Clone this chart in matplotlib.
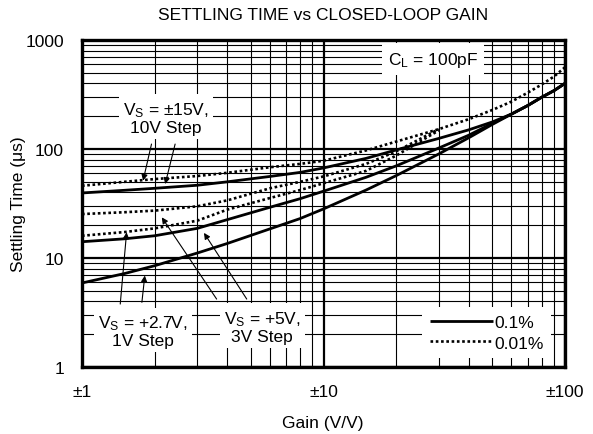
import numpy as np
import matplotlib
matplotlib.use("Agg")
import matplotlib.pyplot as plt
from matplotlib.lines import Line2D
from matplotlib.ticker import FixedLocator, LogLocator, NullFormatter

plt.rcParams["font.family"] = ["Liberation Sans", "DejaVu Sans"]
plt.rcParams["mathtext.fontset"] = "custom"
plt.rcParams["mathtext.rm"] = "Liberation Sans"
plt.rcParams["mathtext.it"] = "Liberation Sans"

nan = np.nan

# gain (V/V) and settling times (us)
gain = [1, 1.5, 2, 3, 4, 6, 8, 10, 15, 20, 30, 40, 50, 60, 70, 80, 90, 100]

t15_01 = [39.5, 41.8, 43.6, 46.5, 50, 56, 61, 67, 82, 98, 125, 150, 177, 209, 250, 298, 343, 400]
t15_001 = [46, 50, 53, 56.5, 60.5, 68, 73, 78, 97, 117, 152, 188, 228, 272, 328, 390, 462, 562]
t5_01 = [14.1, 15, 16, 18.7, 22.5, 29.2, 35, 41, 55, 70, 102, 134, 172, 209, 250, 298, 343, 400]
# the +5V and +2.7V dotted curves run into the ±15V dotted curve near gain 30
t5_001 = [25.3, 26.3, 27.2, 29.8, 33.8, 43.6, 50, 56, 73, 95, 152, nan, nan, nan, nan, nan, nan, nan]
t27_01 = [5.9, 7.2, 8.5, 11.1, 13.6, 18.5, 23, 28.2, 42, 57, 90, 127, 168, 209, 250, 298, 343, 400]
t27_001 = [16, 17.3, 18.7, 22, 27.8, 35.5, 42, 48.5, 63, 87, 148, nan, nan, nan, nan, nan, nan, nan]

x_ticks = [1, 10, 100]
x_labels = ["±1", "±10", "±100"]
y_ticks = [1, 10, 100, 1000]
y_labels = ["1", "10", "100", "1000"]

FS = 12.5
solid = dict(color="black", lw=2.0, solid_capstyle="butt")
dotted = dict(color="black", lw=1.9, linestyle=(0, (1, 1)))

fig = plt.figure(figsize=(5.93, 4.35), dpi=100)
ax = fig.add_axes([82 / 593, 67 / 435, 483 / 593, 327 / 435])

ax.set_xscale("log")
ax.set_yscale("log")
ax.set_xlim(1, 100)
ax.set_ylim(1, 1000)

ax.plot(gain, t15_01, **solid)
ax.plot(gain, t15_001, **dotted)
ax.plot(gain, t5_01, **solid)
ax.plot(gain, t5_001, **dotted)
ax.plot(gain, t27_01, **solid)
ax.plot(gain, t27_001, **dotted)

ax.xaxis.set_major_locator(FixedLocator(x_ticks))
ax.set_xticklabels(x_labels)
ax.yaxis.set_major_locator(FixedLocator(y_ticks))
ax.set_yticklabels(y_labels)
ax.xaxis.set_minor_locator(LogLocator(base=10, subs=range(2, 10)))
ax.yaxis.set_minor_locator(LogLocator(base=10, subs=range(2, 10)))
ax.xaxis.set_minor_formatter(NullFormatter())
ax.yaxis.set_minor_formatter(NullFormatter())
ax.tick_params(which="both", length=0, labelsize=FS)
ax.tick_params(axis="x", pad=12)
ax.tick_params(axis="y", pad=13)

ax.grid(which="major", color="black", lw=1.6)
ax.grid(which="minor", color="black", lw=0.8)
ax.set_axisbelow(True)
for s in ax.spines.values():
    s.set_linewidth(2.4)

# labels
box = dict(facecolor="white", edgecolor="none", boxstyle="square,pad=0.25")
ax.text(2.23, 195, "V$_\\mathregular{S}$ = ±15V,\n10V Step", ha="center", va="center",
        fontsize=FS, linespacing=1.05, bbox=box, zorder=5)
ax.text(1.79, 2.15, "V$_\\mathregular{S}$ = +2.7V,\n1V Step", ha="center", va="center",
        fontsize=FS, linespacing=1.05, bbox=box, zorder=5)
ax.text(5.58, 2.36, "V$_\\mathregular{S}$ = +5V,\n3V Step", ha="center", va="center",
        fontsize=FS, linespacing=1.05, bbox=box, zorder=5)
ax.text(28.4, 669, "C$_\\mathregular{L}$ = 100pF", ha="center", va="center",
        fontsize=FS, bbox=dict(facecolor="white", edgecolor="none", boxstyle="square,pad=0.35"),
        zorder=5)

arrow = dict(arrowstyle="-|>", color="black", lw=0.8, mutation_scale=9, shrinkA=0, shrinkB=0)
# (tip, start) pairs
ax.annotate("", xy=(1.79, 51.2), xytext=(1.94, 111), arrowprops=arrow, zorder=4)
ax.annotate("", xy=(2.21, 47.7), xytext=(2.43, 111), arrowprops=arrow, zorder=4)
ax.annotate("", xy=(1.53, 17.2), xytext=(1.44, 3.78), arrowprops=arrow, zorder=4)
ax.annotate("", xy=(1.82, 6.9), xytext=(1.77, 3.92), arrowprops=arrow, zorder=4)
ax.annotate("", xy=(2.14, 23.6), xytext=(3.61, 4.2), arrowprops=arrow, zorder=4)
ax.annotate("", xy=(3.2, 17.0), xytext=(4.81, 4.2), arrowprops=arrow, zorder=4)

handles = [Line2D([], [], **solid), Line2D([], [], **dotted)]
leg = ax.legend(handles, ["0.1%", "0.01%"], loc="lower right",
                bbox_to_anchor=(0.99, 0.0), frameon=True, fancybox=False,
                edgecolor="none", facecolor="white", framealpha=1,
                handlelength=3.6, handletextpad=0.1, borderpad=0.45,
                labelspacing=0.3, fontsize=FS)
leg.set_zorder(5)

fig.text(323 / 593, 1 - 16 / 435, "SETTLING TIME vs CLOSED-LOOP GAIN",
         ha="center", va="center", fontsize=FS)
fig.text(323 / 593, 1 - 424 / 435, "Gain (V/V)", ha="center", va="center", fontsize=FS)
fig.text(19 / 593, 1 - 204.5 / 435, "Settling Time (μs)", ha="center", va="center",
         rotation=90, fontsize=FS)

fig.savefig("out.png", dpi=100)
